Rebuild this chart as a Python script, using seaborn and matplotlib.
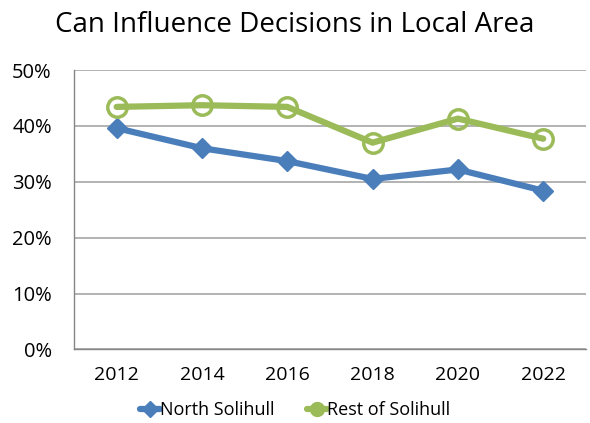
import pandas as pd
import numpy as np
import matplotlib.pyplot as plt
import seaborn as sns
from matplotlib.ticker import FixedLocator, PercentFormatter
from matplotlib.lines import Line2D

sns.set_theme(style='white')
plt.rcParams['font.family'] = ['Open Sans', 'DejaVu Sans']
plt.rcParams['text.color'] = 'black'

years = ['2012', '2014', '2016', '2018', '2020', '2022']
north = [39.6, 36.0, 33.7, 30.5, 32.2, 28.4]
rest = [43.4, 43.7, 43.4, 37.0, 41.3, 37.7]

df = pd.DataFrame({
    'pos': list(range(len(years))) * 2,
    'value': north + rest,
    'area': ['North Solihull'] * len(years) + ['Rest of Solihull'] * len(years),
})

fig = plt.figure(figsize=(5.9, 4.23), dpi=100)
ax = fig.add_axes([0.1254, 0.174, 0.8676, 0.6605])

colors = {'North Solihull': '#4A7EBB', 'Rest of Solihull': '#9BBB59'}
sns.lineplot(data=df, x='pos', y='value', hue='area', palette=colors, ax=ax,
             linewidth=4.5, legend=False)
# markers, excel style
ax.plot(df['pos'][:6], df['value'][:6], ls='none', marker='D', ms=10,
        color='#4A7EBB')
ax.plot(df['pos'][6:], df['value'][6:], ls='none', marker='o', ms=14,
        mfc='none', mec='#9BBB59', mew=2.5)

ax.set_xlim(-0.5, 5.5)
ax.set_ylim(0, 50)
ax.yaxis.set_major_locator(FixedLocator([0, 10, 20, 30, 40, 50]))
ax.yaxis.set_major_formatter(PercentFormatter(decimals=0))
ax.xaxis.set_major_locator(FixedLocator(np.arange(-0.5, 5.6, 1)))
ax.xaxis.set_minor_locator(FixedLocator(range(len(years))))
ax.set_xticklabels([''] * 7)
ax.set_xticklabels(years, minor=True)
ax.tick_params(axis='x', which='major', length=6, color='#868686', width=1, direction='out')
ax.tick_params(axis='x', which='minor', length=0, labelsize=14, pad=12, labelcolor='black')
ax.tick_params(axis='y', length=6, color='#868686', width=1, direction='out',
               labelsize=14.5, labelcolor='black', pad=10)
ax.grid(axis='y', color='#A6A6A6', linewidth=1.2)
ax.set_axisbelow(True)
for s in ['top', 'right']:
    ax.spines[s].set_visible(False)
for s in ['left', 'bottom']:
    ax.spines[s].set_color('#868686')
    ax.spines[s].set_linewidth(1)
ax.set_xlabel('')
ax.set_ylabel('')

handles = [
    Line2D([], [], color='#4A7EBB', lw=4.5, marker='D', ms=8),
    Line2D([], [], color='#9BBB59', lw=4.5, marker='o', ms=10, mfc='#9BBB59'),
]
fig.legend(handles, ['North Solihull', 'Rest of Solihull'], loc='center',
           bbox_to_anchor=(0.5, 0.03), ncol=2, frameon=False, fontsize=13,
           handlelength=1.1, handletextpad=0.0, columnspacing=1.8,
           labelcolor='black')

fig.suptitle('Can Influence Decisions in Local Area', x=0.5, y=0.941,
             fontsize=20, va='center', color='black')

fig.savefig('out.png', dpi=100)
